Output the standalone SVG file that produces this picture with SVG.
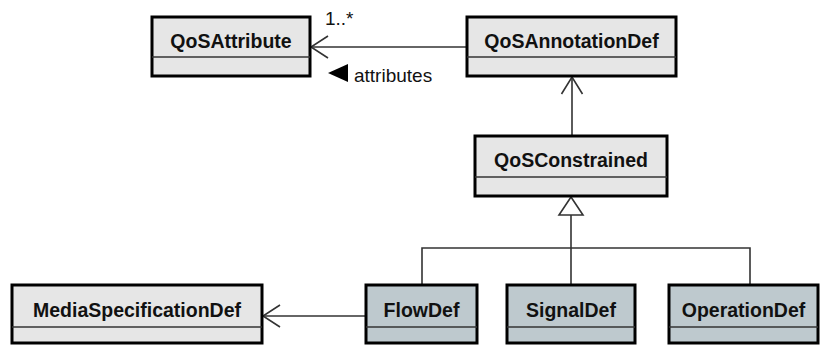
<svg xmlns="http://www.w3.org/2000/svg" width="821" height="345" viewBox="0 0 821 345">
  <style>
    .box { stroke: #000; stroke-width: 3; }
    .plain { fill: #e6e6e6; }
    .tinted { fill: #bec9ce; }
    .div { stroke: #333; stroke-width: 1.5; }
    .name { font-family: "Liberation Sans", Arial, sans-serif; font-weight: bold; font-size: 19.5px; fill: #111; text-anchor: middle; }
    .lbl { font-family: "Liberation Sans", Arial, sans-serif; font-size: 19px; fill: #111; }
    .line { stroke: #333; stroke-width: 1.6; fill: none; }
  </style>

  <!-- connectors -->
  <g id="connectors">
    <!-- association QoSAnnotationDef -> QoSAttribute -->
    <line class="line" x1="467" y1="47" x2="311" y2="47"/>
    <polyline class="line" points="328,36 311,47 328,58"/>
    <text class="lbl" x="325" y="25">1..*</text>
    <polygon points="328,73 348,64 348,82" fill="#000"/>
    <text class="lbl" x="354" y="82">attributes</text>

    <!-- QoSConstrained -> QoSAnnotationDef -->
    <line class="line" x1="572" y1="136" x2="572" y2="77"/>
    <polyline class="line" points="561.5,94 572,77 582.5,94"/>

    <!-- generalization tree -->
    <polyline class="line" points="422,285 422,248 750,248 750,285"/>
    <line class="line" x1="571" y1="215" x2="571" y2="285"/>
    <polygon points="571,197 559,215 583,215" fill="#fff" stroke="#333" stroke-width="1.6"/>

    <!-- FlowDef -> MediaSpecificationDef -->
    <line class="line" x1="366" y1="316" x2="263" y2="316"/>
    <polyline class="line" points="280,305 263,316 280,327"/>
  </g>

  <g id="QoSAttribute">
    <rect class="box plain" x="152" y="17" width="158" height="59"/>
    <line class="div" x1="152" y1="57" x2="310" y2="57"/>
    <text class="name" x="231" y="48">QoSAttribute</text>
  </g>

  <g id="QoSAnnotationDef">
    <rect class="box plain" x="467" y="17" width="209" height="59"/>
    <line class="div" x1="467" y1="57" x2="676" y2="57"/>
    <text class="name" x="571.5" y="48">QoSAnnotationDef</text>
  </g>

  <g id="QoSConstrained">
    <rect class="box plain" x="475" y="136" width="192" height="60"/>
    <line class="div" x1="475" y1="177" x2="667" y2="177"/>
    <text class="name" x="571" y="167">QoSConstrained</text>
  </g>

  <g id="MediaSpecificationDef">
    <rect class="box plain" x="12" y="285" width="250" height="58"/>
    <line class="div" x1="12" y1="327" x2="262" y2="327"/>
    <text class="name" x="137" y="317">MediaSpecificationDef</text>
  </g>

  <g id="FlowDef">
    <rect class="box tinted" x="366" y="285" width="111" height="58"/>
    <line class="div" x1="366" y1="327" x2="477" y2="327"/>
    <text class="name" x="421.5" y="317">FlowDef</text>
  </g>

  <g id="SignalDef">
    <rect class="box tinted" x="507" y="285" width="128" height="58"/>
    <line class="div" x1="507" y1="327" x2="635" y2="327"/>
    <text class="name" x="571" y="317">SignalDef</text>
  </g>

  <g id="OperationDef">
    <rect class="box tinted" x="669" y="285" width="149" height="58"/>
    <line class="div" x1="669" y1="327" x2="818" y2="327"/>
    <text class="name" x="743.5" y="317">OperationDef</text>
  </g>
</svg>
